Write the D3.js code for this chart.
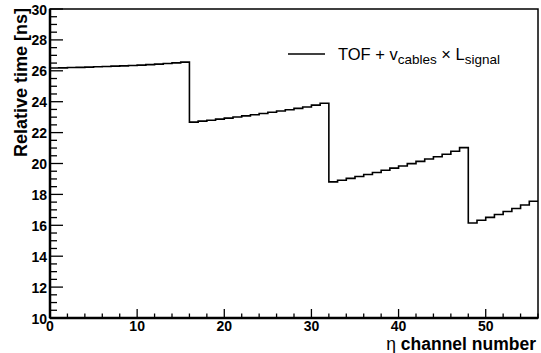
<!DOCTYPE html>
<html><head><meta charset="utf-8">
<script src="https://cdn.jsdelivr.net/npm/d3@7"></script>
<style>body{margin:0;background:#fff}svg{display:block}text{font-family:"Liberation Sans",Arial,sans-serif}</style>
</head><body>
<script>
const seg1 = [26.18,26.19,26.21,26.22,26.24,26.26,26.28,26.30,26.32,26.34,26.37,26.40,26.43,26.47,26.51,26.56];
const seg2 = [22.68,22.74,22.80,22.87,22.94,23.01,23.08,23.16,23.24,23.32,23.40,23.48,23.57,23.66,23.78,23.90];
const seg3 = [18.81,18.92,19.04,19.16,19.29,19.42,19.56,19.70,19.84,19.99,20.14,20.29,20.44,20.60,20.79,21.03];
const seg4 = [16.15,16.33,16.51,16.70,16.89,17.09,17.31,17.56];
const values = [...seg1, ...seg2, ...seg3, ...seg4];
const xTicks = [0,10,20,30,40,50];
const yTicks = [10,12,14,16,18,20,22,24,26,28,30];

const W = 541, H = 353;
const L = 50, R = 538, T = 9, B = 318;
const svg = d3.select("body").append("svg").attr("width", W).attr("height", H);
const x = d3.scaleLinear().domain([0, 56]).range([L, R]);
const y = d3.scaleLinear().domain([10, 30]).range([B, T]);

const gx = svg.append("g");
d3.range(0, 57, 2).forEach(v => {
  const major = v % 10 === 0;
  gx.append("line").attr("x1", x(v)).attr("x2", x(v)).attr("y1", B).attr("y2", B - (major ? 9 : 4.5))
    .attr("stroke", "#000").attr("stroke-width", 1.3);
});
xTicks.forEach(v => {
  gx.append("text").attr("x", x(v)).attr("y", B + 13).attr("text-anchor", "middle")
    .attr("font-size", 14).attr("font-weight", "bold").text(v);
});
const gy = svg.append("g");
d3.range(10, 30.01, 0.5).forEach(v => {
  const major = Math.abs(v % 2) < 1e-6;
  gy.append("line").attr("x1", L).attr("x2", L + (major ? 13 : 7)).attr("y1", y(v)).attr("y2", y(v))
    .attr("stroke", "#000").attr("stroke-width", 1.3);
});
yTicks.forEach(v => {
  gy.append("text").attr("x", L - 3).attr("y", y(v) + 5.5).attr("text-anchor", "end")
    .attr("font-size", 14).attr("font-weight", "bold").text(v);
});

const pts = [];
values.forEach((v, i) => { pts.push([x(i), y(v)]); pts.push([x(i + 1), y(v)]); });
svg.append("path").attr("d", d3.line()(pts)).attr("fill", "none").attr("stroke", "#000").attr("stroke-width", 1.6);

svg.append("rect").attr("x", L).attr("y", T).attr("width", R - L).attr("height", B - T)
  .attr("fill", "none").attr("stroke", "#000").attr("stroke-width", 1.5);
svg.append("line").attr("x1", L).attr("x2", R).attr("y1", B).attr("y2", B).attr("stroke", "#000").attr("stroke-width", 2.5);
svg.append("line").attr("x1", L).attr("x2", L).attr("y1", T).attr("y2", B).attr("stroke", "#000").attr("stroke-width", 2.5);

svg.append("text").attr("transform", `translate(27,${T - 1}) rotate(-90)`).attr("text-anchor", "end")
  .attr("font-size", 18).attr("font-weight", "bold").text("Relative time [ns]");
const xt = svg.append("text").attr("x", R - 2).attr("y", 350).attr("text-anchor", "end").attr("font-size", 17.5);
xt.append("tspan").text("η ");
xt.append("tspan").attr("font-weight", "bold").text("channel number");

svg.append("line").attr("x1", 288).attr("x2", 325).attr("y1", 54).attr("y2", 54).attr("stroke", "#000").attr("stroke-width", 1.3);
const lt = svg.append("text").attr("x", 338).attr("y", 60).attr("font-size", 16.5);
lt.append("tspan").text("TOF + v");
lt.append("tspan").attr("font-size", 13.5).attr("dy", 4).text("cables");
lt.append("tspan").attr("dy", -4).text(" × L");
lt.append("tspan").attr("font-size", 13.5).attr("dy", 4).text("signal");
</script>
</body></html>
